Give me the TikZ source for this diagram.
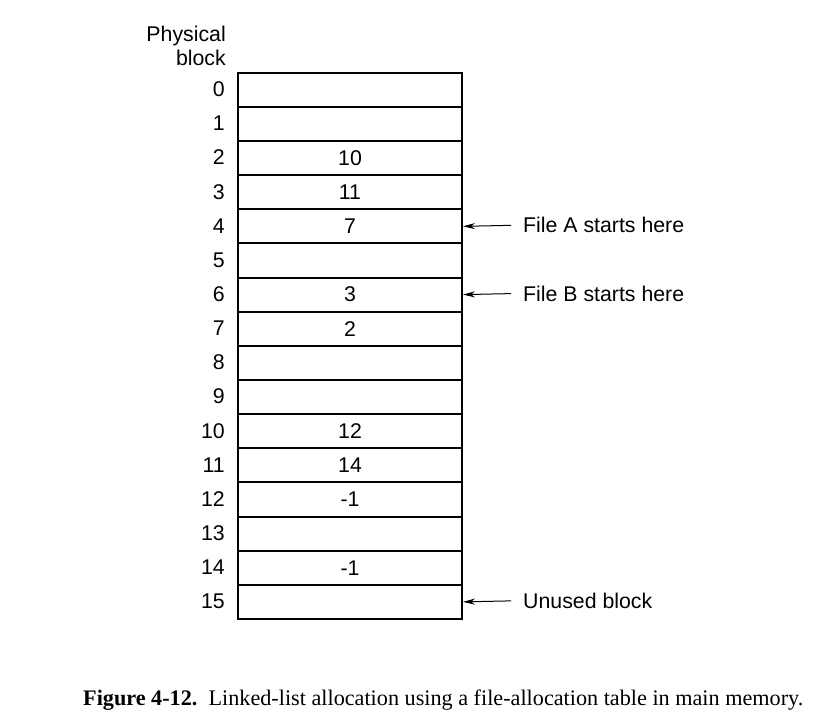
\documentclass[tikz,border=0pt]{standalone}
\usepackage{fontspec}
\setmainfont{Liberation Serif}
\setsansfont{Liberation Sans}
\usetikzlibrary{arrows.meta}
\begin{document}
\begin{tikzpicture}[x=1pt,y=-1pt,
  lbl/.style={font=\sffamily\fontsize{21.3}{25.5}\selectfont, inner sep=0pt},
  cellbox/.style={draw, line width=2pt, minimum width=224pt, minimum height=34.14pt, inner sep=0pt, anchor=north west, font=\sffamily\fontsize{21.3}{25.5}\selectfont},
  ptr/.style={line width=1pt, -{Stealth[length=12pt,width=6pt]}}]
\useasboundingbox (0,0) rectangle (821,723);
\node[lbl, anchor=base east, align=right] (ph) at (226,41) {Physical};
\node[lbl, anchor=base east] (bl) at (226,65) {block};
\foreach \i/\v in {0/,1/,2/10,3/11,4/7,5/,6/3,7/2,8/,9/,10/12,11/14,12/-1,13/,14/-1,15/} {
  \node[cellbox] (c\i) at (237,{71.7+34.14*\i}) {\v};
  \node[lbl, anchor=east] (n\i) at (225,{71.7+34.14*(\i+0.5)+0.5}) {\i};
}
\node[lbl, anchor=west] (fa) at (523,{71.7+34.14*4.5}) {File A starts here};
\node[lbl, anchor=west] (fb) at (523,{71.7+34.14*6.5}) {File B starts here};
\node[lbl, anchor=west] (ub) at (523,{71.7+34.14*15.5}) {Unused block};
\draw[ptr] (fa.west) ++(-12,0) -- (c4.east);
\draw[ptr] (fb.west) ++(-12,0) -- (c6.east);
\draw[ptr] (ub.west) ++(-12,0) -- (c15.east);
\node[anchor=base west, inner sep=0pt, font=\fontsize{22.2}{26}\selectfont] (cap) at (83,705) {\textbf{Figure 4-12.}\hspace{0.5em}Linked-list allocation using a file-allocation table in main memory.};
\end{tikzpicture}
\end{document}
